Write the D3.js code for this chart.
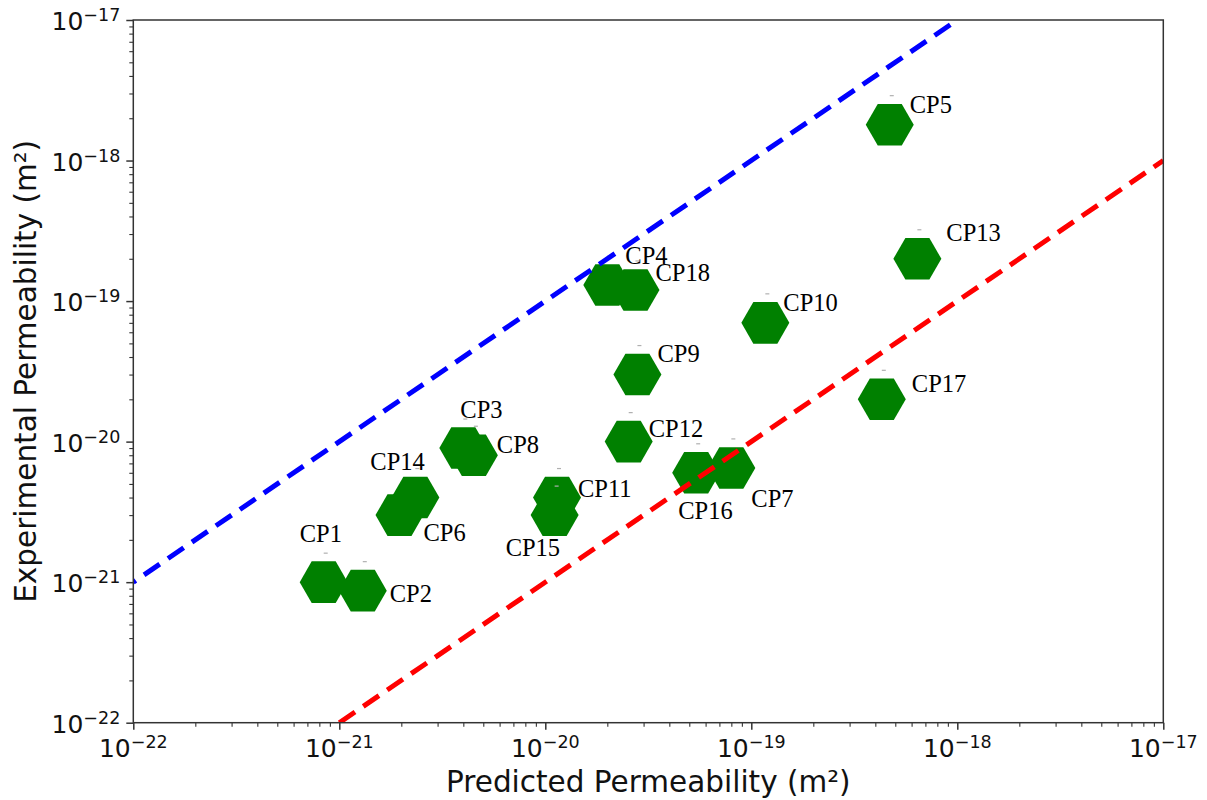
<!DOCTYPE html>
<html>
<head>
<meta charset="utf-8">
<script src="https://cdn.jsdelivr.net/npm/d3@7"></script>
<style>
  body { margin: 0; background: #fff; }
</style>
</head>
<body>
<script>
// canvas size
var W = 1207, H = 800;

// sample names and permeabilities (m^2)
var names = ["CP1", "CP2", "CP3", "CP4", "CP5", "CP6", "CP7", "CP8", "CP9",
             "CP10", "CP11", "CP12", "CP13", "CP14", "CP15", "CP16", "CP17", "CP18"];
var predicted = [8.4e-22, 1.3e-21, 4.0e-21, 2.0e-20, 4.7e-19, 1.96e-21, 8.0e-20, 4.5e-21, 2.8e-20,
                 1.17e-19, 1.14e-20, 2.54e-20, 6.4e-19, 2.34e-21, 1.11e-20, 5.4e-20, 4.3e-19, 2.74e-20];
var experimental = [1.0e-21, 8.7e-22, 9.0e-21, 1.3e-19, 1.8e-18, 3.0e-21, 6.5e-21, 8.0e-21, 3.0e-20,
                    7.0e-20, 4.0e-21, 1.0e-20, 2.0e-19, 4.0e-21, 3.0e-21, 6.0e-21, 2.0e-20, 1.2e-19];

// the two bounding lines (factor 10 above / below the 1:1 line)
var upperX = [1e-22, 1e-18], upperY = [1e-21, 1e-17];
var lowerX = [1e-21, 1e-17], lowerY = [1e-22, 1e-18];

// tick values and their exponent labels
var decades = [1e-22, 1e-21, 1e-20, 1e-19, 1e-18, 1e-17];
var exponents = ["\u221222", "\u221221", "\u221220", "\u221219", "\u221218", "\u221217"];

// label placement, pixels from the marker centre (left edge / baseline)
var labelOffset = {
  CP1: [-24, -40], CP2: [27, 11], CP3: [-3, -30], CP4: [18, -21], CP5: [20, -12],
  CP6: [24, 26], CP7: [20, 39], CP8: [23, -2], CP9: [20, -13], CP10: [18, -12],
  CP11: [21, -1], CP12: [20, -5], CP13: [29, -18], CP14: [-45, -28], CP15: [-49, 41],
  CP16: [-18, 46], CP17: [30, -7], CP18: [20, -9]
};

var plotL = 133.3, plotR = 1163.3, plotT = 20, plotB = 722.7;

var x = d3.scaleLog().domain([1e-22, 1e-17]).range([plotL, plotR]);
var y = d3.scaleLog().domain([1e-22, 1e-17]).range([plotB, plotT]);

var svg = d3.select("body").append("svg")
  .attr("width", W)
  .attr("height", H)
  .style("font-family", "'DejaVu Sans', sans-serif");

svg.append("defs").append("clipPath").attr("id", "plot")
  .append("rect")
  .attr("x", plotL).attr("y", plotT)
  .attr("width", plotR - plotL).attr("height", plotB - plotT);

// minor ticks for every decade
var minor = [];
decades.slice(0, -1).forEach(function(d) {
  for (var k = 2; k <= 9; k++) minor.push(d * k);
});

// hexagon with flat top and bottom
var hexagon = {
  draw: function(ctx, size) {
    var r = Math.sqrt(size);
    for (var i = 0; i < 6; i++) {
      var a = Math.PI / 3 * i;
      if (i == 0) ctx.moveTo(r * Math.cos(a), r * Math.sin(a));
      else ctx.lineTo(r * Math.cos(a), r * Math.sin(a));
    }
    ctx.closePath();
  }
};

var points = names.map(function(n, i) {
  return {name: n, px: predicted[i], ex: experimental[i]};
});

var marks = svg.append("g").selectAll("g")
  .data(points)
  .enter().append("g")
  .attr("transform", function(d) { return "translate(" + x(d.px) + "," + y(d.ex) + ")"; });

marks.append("path")
  .attr("d", d3.symbol().type(hexagon).size(24 * 24))
  .style("fill", "#008000");

// little grey caps seen above each marker
marks.append("line")
  .attr("x1", 0).attr("x2", 4)
  .attr("y1", -29).attr("y2", -29)
  .style("stroke", "#b0b0b0")
  .style("stroke-width", 1.2);

marks.append("text")
  .text(function(d) { return d.name; })
  .attr("x", function(d) { return labelOffset[d.name][0]; })
  .attr("y", function(d) { return labelOffset[d.name][1]; })
  .style("font-family", "'Liberation Serif', 'Times New Roman', serif")
  .style("font-size", "24.5px")
  .style("fill", "#000");

// dashed bound lines, drawn over the markers
var line = d3.line()
  .x(function(d) { return x(d[0]); })
  .y(function(d) { return y(d[1]); });

svg.append("path")
  .datum(d3.zip(upperX, upperY))
  .attr("d", line)
  .attr("clip-path", "url(#plot)")
  .style("fill", "none")
  .style("stroke", "#0000ff")
  .style("stroke-width", 5)
  .style("stroke-dasharray", "19,10")
  .style("stroke-dashoffset", 16);

svg.append("path")
  .datum(d3.zip(lowerX, lowerY))
  .attr("d", line)
  .attr("clip-path", "url(#plot)")
  .style("fill", "none")
  .style("stroke", "#ff0000")
  .style("stroke-width", 5)
  .style("stroke-dasharray", "19,10");

// axes: major and minor ticks, no built-in labels
function styleAxis(g, w) {
  g.select(".domain").remove();
  g.selectAll(".tick line").style("stroke", "#333").style("stroke-width", w);
}

svg.append("g").attr("transform", "translate(0," + plotB + ")")
  .call(d3.axisBottom(x).tickValues(decades).tickSize(7).tickFormat(""))
  .call(styleAxis, 1.5);
svg.append("g").attr("transform", "translate(0," + plotB + ")")
  .call(d3.axisBottom(x).tickValues(minor).tickSize(4).tickFormat(""))
  .call(styleAxis, 1.1);
svg.append("g").attr("transform", "translate(" + plotL + ",0)")
  .call(d3.axisLeft(y).tickValues(decades).tickSize(7).tickFormat(""))
  .call(styleAxis, 1.5);
svg.append("g").attr("transform", "translate(" + plotL + ",0)")
  .call(d3.axisLeft(y).tickValues(minor).tickSize(4).tickFormat(""))
  .call(styleAxis, 1.1);

// frame
svg.append("rect")
  .attr("x", plotL).attr("y", plotT)
  .attr("width", plotR - plotL).attr("height", plotB - plotT)
  .style("fill", "none")
  .style("stroke", "#333")
  .style("stroke-width", 1.5);

// tick labels as 10^n
function powerLabel(sel) {
  sel.append("tspan").text("10").style("font-size", "25px");
  sel.append("tspan").text(function(d, i) { return exponents[i]; })
    .attr("dy", -9)
    .style("font-size", "17.5px");
}

svg.append("g").selectAll("text")
  .data(decades)
  .enter().append("text")
  .attr("x", function(d) { return x(d); })
  .attr("y", 757)
  .attr("text-anchor", "middle")
  .style("fill", "#111")
  .call(powerLabel);

svg.append("g").selectAll("text")
  .data(decades)
  .enter().append("text")
  .attr("x", plotL - 13)
  .attr("y", function(d) { return y(d) + 10; })
  .attr("text-anchor", "end")
  .style("fill", "#111")
  .call(powerLabel);

// axis titles
svg.append("text")
  .attr("x", (plotL + plotR) / 2)
  .attr("y", 792)
  .attr("text-anchor", "middle")
  .style("font-size", "29.5px")
  .style("fill", "#111")
  .text("Predicted Permeability (m\u00b2)");

svg.append("text")
  .attr("transform", "translate(36," + (plotT + plotB) / 2 + ") rotate(-90)")
  .attr("text-anchor", "middle")
  .style("font-size", "29.5px")
  .style("fill", "#111")
  .text("Experimental Permeability (m\u00b2)");
</script>
</body>
</html>
